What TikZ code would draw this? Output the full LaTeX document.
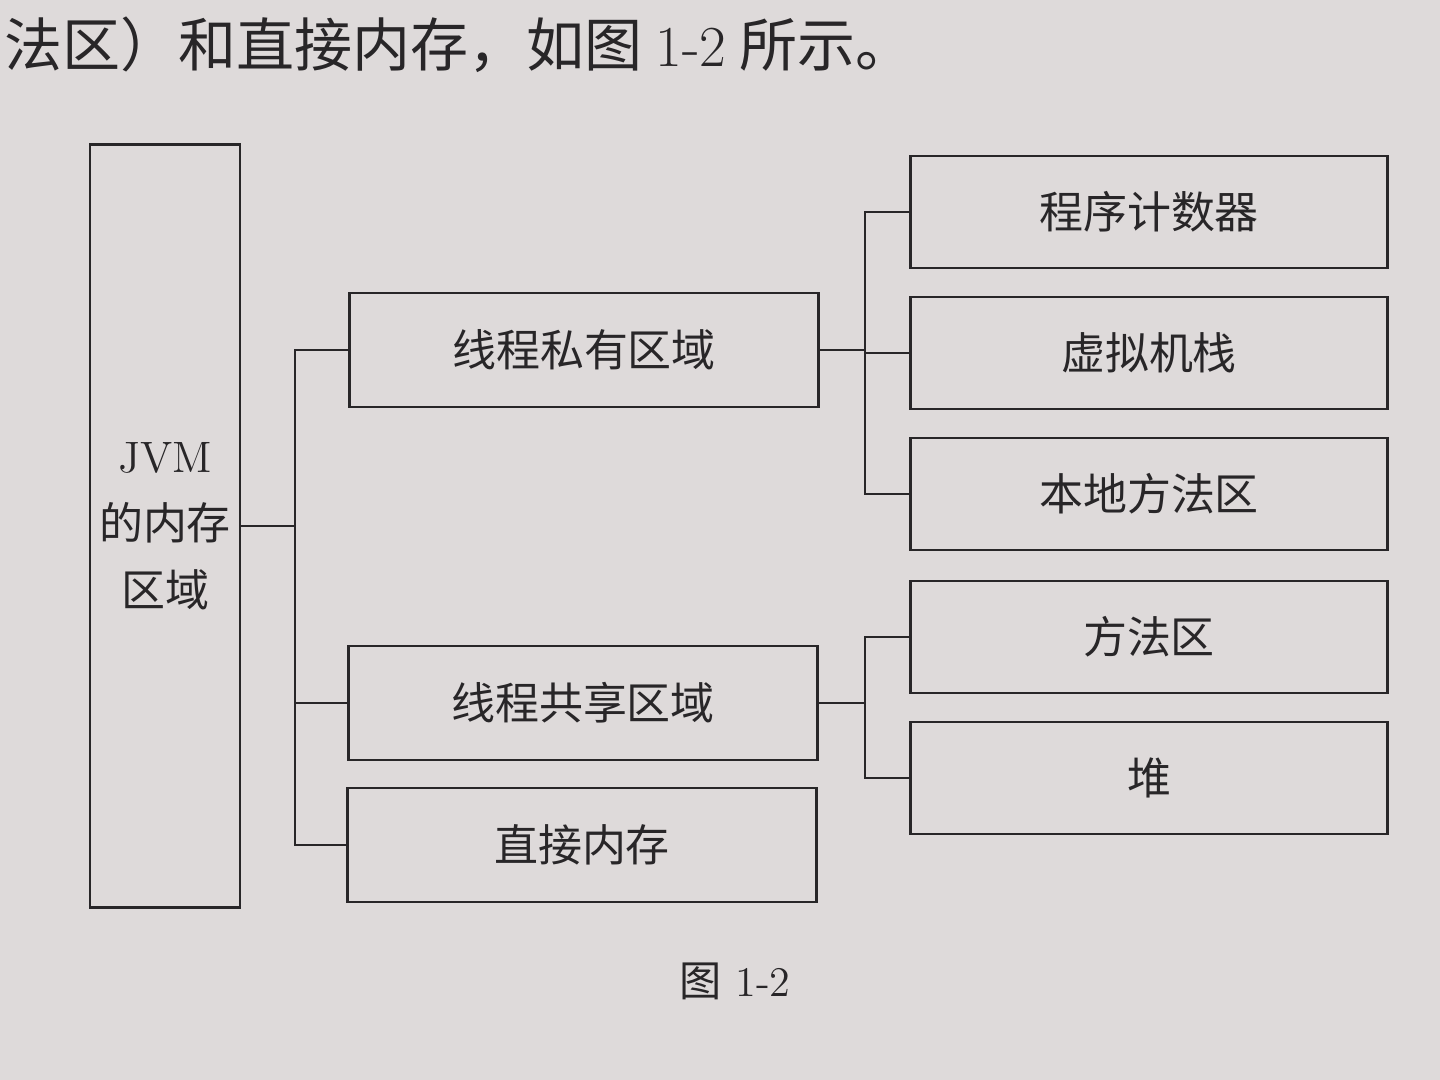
\documentclass[tikz,border=0pt]{standalone}
\usepackage{fontspec}
\usepackage{xcolor}
\newfontfamily\cjk{Noto Sans CJK SC}
\definecolor{paper}{RGB}{222,218,218}
\definecolor{ink}{RGB}{40,38,40}
\tikzset{
	membox/.style={draw=ink, line width=0.8pt, rectangle, inner sep=0pt, font=\cjk\fontsize{12.5}{19}\selectfont, text=ink},
	midbox/.style={membox, minimum width=4.68cm, minimum height=1.14cm},
	rightbox/.style={membox, minimum width=4.76cm, minimum height=1.12cm},
	link/.style={draw=ink, line width=0.8pt}
}
\begin{document}
\begin{tikzpicture}[x=0.01cm, y=-0.01cm]
					\fill[paper] (0,0) rectangle (1440,1080);
					\useasboundingbox (0,0) rectangle (1440,1080);
					
					% text of the page
					\node[anchor=west, text=ink, font=\cjk\fontsize{16.5}{20}\selectfont] (line) at (-8,45) {法区）和直接内存，如图 {\rmfamily 1-2} 所示。};
					\node[text=ink, font=\fontsize{12}{14}\selectfont] (cap) at (735,981) {{\cjk 图} 1-2};
					
					\node[membox, minimum width=1.5cm, minimum height=7.62cm, align=center] (jvm) at (165,526) {{\rmfamily JVM}\\的内存\\区域};
					
					\node[midbox] (priv) at (584,350) {线程私有区域};
					\node[midbox] (shared) at (583,703) {线程共享区域};
					\node[midbox] (direct) at (582,845) {直接内存};
					
					\node[rightbox] (pc) at (1149,212) {程序计数器};
					\node[rightbox] (stack) at (1149,353) {虚拟机栈};
					\node[rightbox] (native) at (1149,494) {本地方法区};
					\node[rightbox] (method) at (1149,637) {方法区};
					\node[rightbox] (heap) at (1149,778) {堆};
					
					\coordinate (jb) at (295,526);
					\coordinate (pb) at (865,350);
					\coordinate (sb) at (865,703);
					
					\draw[link] (jvm.east) -- (jb);
					\draw[link] (priv.west) -| (jb) |- (direct.west);
					\draw[link] (jb |- shared.west) -- (shared.west);
					
					\draw[link] (priv.east) -- (pb);
					\draw[link] (pc.west) -| (pb) |- (native.west);
					\draw[link] (pb |- stack.west) -- (stack.west);
					
					\draw[link] (shared.east) -- (sb);
					\draw[link] (method.west) -| (sb) |- (heap.west);
				\end{tikzpicture}
\end{document}
